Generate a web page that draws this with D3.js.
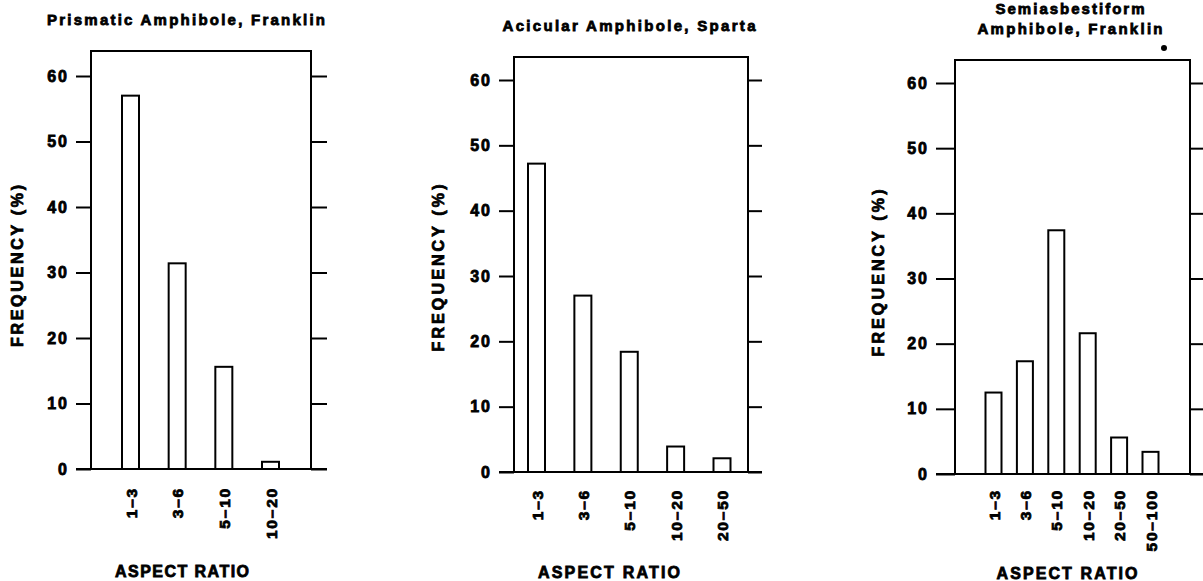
<!DOCTYPE html>
<html>
<head>
<meta charset="utf-8">
<script src="https://cdn.jsdelivr.net/npm/d3@7"></script>
<style>
  html, body { margin: 0; padding: 0; background: #fff; }
  svg { display: block; }
  text { font-family: "Liberation Sans", Arial, Helvetica, sans-serif; font-weight: bold; fill: #000; stroke: #000; stroke-width: 0.8px; }
</style>
</head>
<body>
<svg id="chart" width="1203" height="581"></svg>
<script>
// ---- Data ----
const titles1 = ["Prismatic  Amphibole,  Franklin"];
const titles2 = ["Acicular  Amphibole,  Sparta"];
const titles3 = ["Semiasbestiform", "Amphibole,  Franklin"];

const categories1 = ["1–3", "3–6", "5–10", "10–20"];
const values1 = [57.0, 31.4, 15.6, 1.1];

const categories2 = ["1–3", "3–6", "5–10", "10–20", "20–50"];
const values2 = [47.2, 27.0, 18.4, 3.9, 2.1];

const categories3 = ["1–3", "3–6", "5–10", "10–20", "20–50", "50–100"];
const values3 = [12.5, 17.3, 37.4, 21.6, 5.6, 3.4];

const yTickValues = [0, 10, 20, 30, 40, 50, 60];
const yLabel = "FREQUENCY  (%)";
const xLabel = "ASPECT  RATIO";

// ---- Layout (positions only) ----
const panels = [
  { titles: titles1, cats: categories1, vals: values1,
    boxL: 91, boxR: 311, boxT: 51, y0: 469, y60: 76, firstC: 130.5, lastC: 270.5, barW: 17,
    tickL: 15, tickR: 16, titleX: 186, titleY: [25], titleW: [278],
    yLabX: 17, yLabY: 266, yLabW: 162, xLabX: 182, xLabY: 577, xLabW: 134, tickLabY: 487 },
  { titles: titles2, cats: categories2, vals: values2,
    boxL: 514, boxR: 748, boxT: 57, y0: 472, y60: 80, firstC: 536.5, lastC: 722, barW: 17,
    tickL: 15, tickR: 14, titleX: 629, titleY: [31], titleW: [253],
    yLabX: 438, yLabY: 268, yLabW: 167, xLabX: 609, xLabY: 578, xLabW: 142, tickLabY: 489 },
  { titles: titles3, cats: categories3, vals: values3,
    boxL: 955, boxR: 1190, boxT: 60, y0: 474, y60: 83, firstC: 993.5, lastC: 1150.5, barW: 16,
    tickL: 19, tickR: 16, titleX: 1070, titleY: [14, 34], titleW: [149, 185],
    yLabX: 878, yLabY: 273, yLabW: 167, xLabX: 1067, xLabY: 579, xLabW: 141, tickLabY: 489,
    dot: [1164, 48] }
];

const svg = d3.select("#chart");

panels.forEach(p => {
  const g = svg.append("g");
  const y = d3.scaleLinear().domain([0, 60]).range([p.y0, p.y60]);
  const x = d3.scalePoint().domain(p.cats).range([p.firstC, p.lastC]);

  // titles
  p.titles.forEach((t, i) => {
    g.append("text")
      .attr("x", p.titleX).attr("y", p.titleY[i])
      .attr("text-anchor", "middle")
      .attr("font-size", 15)
      .attr("textLength", p.titleW[i]).attr("lengthAdjust", "spacing")
      .text(t);
  });

  // frame: left, top, right
  const frame = g.append("g").attr("stroke", "#000").attr("stroke-width", 2).attr("fill", "none");
  frame.append("path")
    .attr("d", `M${p.boxL},${y(0)} V${p.boxT} H${p.boxR} V${y(0)}`);

  // left axis ticks (outward)
  const leftAxis = d3.axisLeft(y).tickValues(yTickValues).tickSize(p.tickL).tickPadding(7).tickFormat(d3.format("d"));
  const la = g.append("g").attr("transform", `translate(${p.boxL},0)`).call(leftAxis);
  la.select(".domain").remove();
  la.selectAll(".tick line").attr("stroke", "#000").attr("stroke-width", 2);
  la.selectAll(".tick text")
    .attr("font-size", 16).attr("letter-spacing", "2px")
    .attr("font-family", null).attr("fill", "#000");

  // right axis ticks (outward, no labels)
  const rightAxis = d3.axisRight(y).tickValues(yTickValues).tickSize(p.tickR).tickFormat("");
  const ra = g.append("g").attr("transform", `translate(${p.boxR},0)`).call(rightAxis);
  ra.select(".domain").remove();
  ra.selectAll(".tick line").attr("stroke", "#000").attr("stroke-width", 2);

  // bars
  g.selectAll("rect.bar").data(p.vals).enter().append("rect")
    .attr("class", "bar")
    .attr("x", (d, i) => x(p.cats[i]) - p.barW / 2)
    .attr("width", p.barW)
    .attr("y", d => y(d))
    .attr("height", d => y(0) - y(d))
    .attr("fill", "#fff").attr("stroke", "#000").attr("stroke-width", 2);

  // baseline
  g.append("line")
    .attr("x1", p.boxL - p.tickL).attr("x2", p.boxR + p.tickR)
    .attr("y1", y(0)).attr("y2", y(0))
    .attr("stroke", "#000").attr("stroke-width", 2.2);

  // category labels (rotated)
  g.selectAll("text.cat").data(p.cats).enter().append("text")
    .attr("class", "cat")
    .attr("transform", d => `translate(${x(d) + 6},${p.tickLabY}) rotate(-90)`)
    .attr("text-anchor", "end")
    .attr("font-size", 15.5).attr("letter-spacing", "1.8px")
    .text(d => d);

  // y label
  g.append("text")
    .attr("transform", `translate(${p.yLabX + 5.5},${p.yLabY}) rotate(-90)`)
    .attr("text-anchor", "middle")
    .attr("font-size", 16)
    .attr("textLength", p.yLabW).attr("lengthAdjust", "spacing")
    .text(yLabel);

  // x label
  g.append("text")
    .attr("x", p.xLabX).attr("y", p.xLabY)
    .attr("text-anchor", "middle")
    .attr("font-size", 16)
    .attr("textLength", p.xLabW).attr("lengthAdjust", "spacing")
    .text(xLabel);

  if (p.dot) {
    g.append("circle").attr("cx", p.dot[0]).attr("cy", p.dot[1]).attr("r", 3).attr("fill", "#000");
  }
});
</script>
</body>
</html>
